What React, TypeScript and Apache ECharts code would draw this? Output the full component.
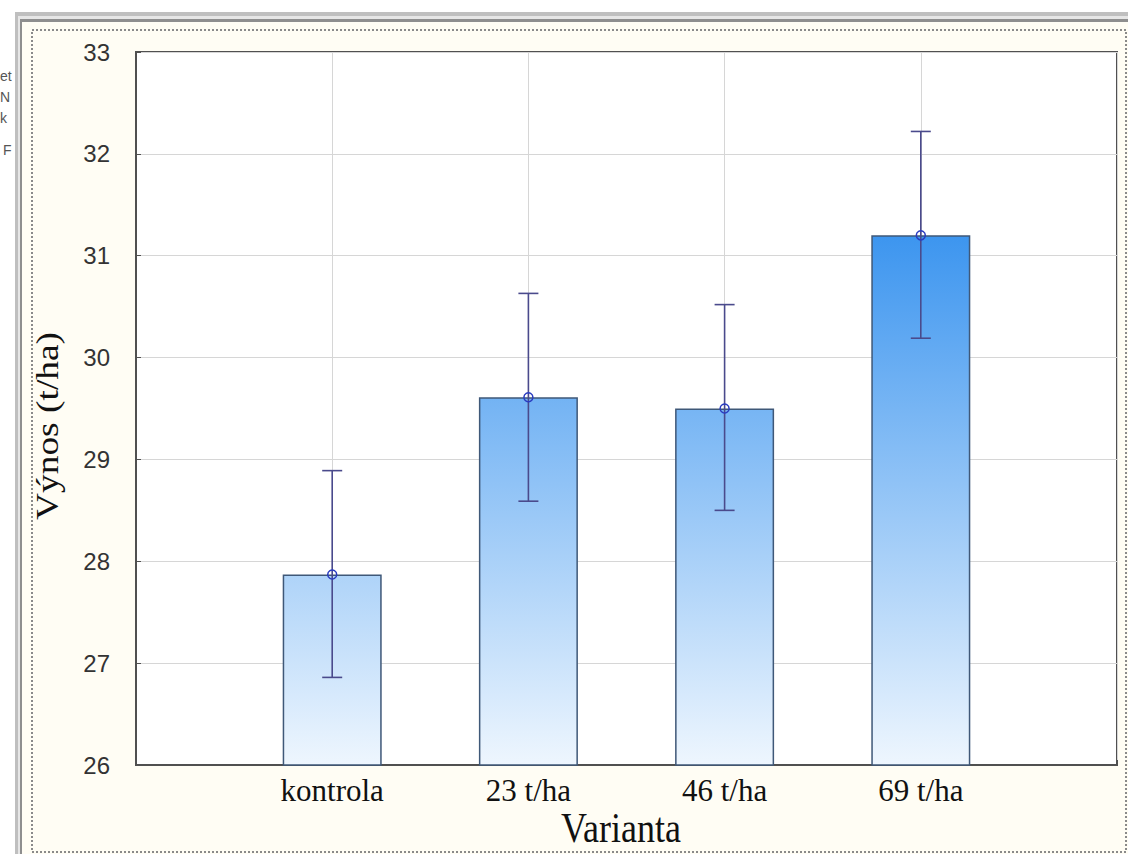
import React, { useEffect, useRef } from "react";
import * as echarts from "echarts";

const categories = ["", "kontrola", "23 t/ha", "46 t/ha", "69 t/ha", ""];
const means = [null, 27.87, 29.61, 29.5, 31.2, null];
const lowerErr = [null, 26.86, 28.59, 28.5, 30.19, null];
const upperErr = [null, 28.89, 30.63, 30.52, 32.22, null];
const yTicks = { min: 26, max: 33, interval: 1 };
const sideFragments = ["et", "N", "k", "F"];

export default function App() {
  const ref = useRef<HTMLDivElement>(null);
  useEffect(() => {
    if (!ref.current) return;
    const chart = echarts.init(ref.current, null, { renderer: "svg" });
    const errData: any[] = [];
    categories.forEach((_, i) => {
      if (means[i] != null) errData.push([i, lowerErr[i], upperErr[i], means[i]]);
    });
    const serif = "'Liberation Serif', 'DejaVu Serif', serif";
    const sans = "'Liberation Sans', Arial, sans-serif";
    const option: any = {
      animation: false,
      backgroundColor: "#ffffff",
      graphic: [
        { type: "rect", shape: { x: 15, y: 12, width: 1113, height: 842 }, style: { fill: "#bfbfbf" }, z: -10 },
        { type: "rect", shape: { x: 18, y: 16, width: 1110, height: 838 }, style: { fill: "#e6e6e6" }, z: -10 },
        { type: "rect", shape: { x: 20, y: 19, width: 1108, height: 835 }, style: { fill: "#8e8e8e" }, z: -10 },
        { type: "rect", shape: { x: 22, y: 22, width: 1106, height: 832 }, style: { fill: "#fffdf4" }, z: -10 },
        {
          type: "rect",
          shape: { x: 32, y: 30, width: 1094, height: 822 },
          style: { fill: "none", stroke: "#8a8a8a", lineWidth: 2, lineDash: [2, 2] },
          z: -9,
        },
        ...sideFragments.map((t, i) => ({
          type: "text",
          x: i === 3 ? 3 : 0,
          y: [76, 97, 118, 150][i],
          style: { text: t, font: `14px ${sans}`, fill: "#555", verticalAlign: "middle" },
        })),
        {
          type: "text",
          x: 47,
          y: 426,
          rotation: Math.PI / 2,
          scaleX: 1.17,
          style: {
            text: "Výnos (t/ha)",
            font: `32px ${serif}`,
            fill: "#111",
            align: "center",
            verticalAlign: "middle",
          },
        },
        {
          type: "text",
          x: 621,
          y: 828,
          scaleY: 1.2,
          style: {
            text: "Varianta",
            font: `36px ${serif}`,
            fill: "#111",
            align: "center",
            verticalAlign: "middle",
          },
        },
      ],
      grid: {
        left: 136,
        right: 11,
        top: 52,
        bottom: 89,
        show: true,
        backgroundColor: "#ffffff",
        borderColor: "#505050",
        borderWidth: 2,
      },
      xAxis: {
        type: "category",
        data: categories,
        boundaryGap: false,
        axisLine: { lineStyle: { color: "#505050", width: 2 } },
        axisTick: { inside: true, length: 5, lineStyle: { color: "#505050" } },
        axisLabel: { fontFamily: serif, fontSize: 31, color: "#111", margin: 10 },
        splitLine: { show: true, lineStyle: { color: "#d6d6d6", width: 1 } },
      },
      yAxis: {
        type: "value",
        min: yTicks.min,
        max: yTicks.max,
        interval: yTicks.interval,
        axisLine: { show: true, lineStyle: { color: "#505050", width: 2 } },
        axisTick: { show: true, inside: true, length: 5, lineStyle: { color: "#505050" } },
        axisLabel: { fontFamily: sans, fontSize: 24, color: "#333", margin: 26 },
        splitLine: { show: true, lineStyle: { color: "#d6d6d6", width: 1 } },
      },
      series: [
        {
          type: "bar",
          data: means,
          barWidth: 99,
          itemStyle: {
            color: new echarts.graphic.LinearGradient(
              0, 234, 0, 765,
              [
                { offset: 0, color: "#3c95ef" },
                { offset: 1, color: "#eef6fe" },
              ],
              true
            ),
            borderColor: "#3f5878",
            borderWidth: 1.5,
          },
          z: 2,
        },
        {
          type: "custom",
          data: errData,
          z: 5,
          renderItem: (params: any, api: any) => {
            const x = api.value(0);
            const lo = api.coord([x, api.value(1)]);
            const hi = api.coord([x, api.value(2)]);
            const mid = api.coord([x, api.value(3)]);
            const capW = 10;
            const stroke = { stroke: "#4a4a8c", lineWidth: 1.6 };
            return {
              type: "group",
              children: [
                { type: "line", shape: { x1: lo[0], y1: lo[1], x2: hi[0], y2: hi[1] }, style: stroke },
                { type: "line", shape: { x1: lo[0] - capW, y1: lo[1], x2: lo[0] + capW, y2: lo[1] }, style: stroke },
                { type: "line", shape: { x1: hi[0] - capW, y1: hi[1], x2: hi[0] + capW, y2: hi[1] }, style: stroke },
                {
                  type: "circle",
                  shape: { cx: mid[0], cy: mid[1], r: 4.5 },
                  style: { fill: "none", stroke: "#2a3cc0", lineWidth: 1.5 },
                },
              ],
            };
          },
        },
      ],
    };
    chart.setOption(option);
    return () => chart.dispose();
  }, []);
  return (
    <div
      ref={ref}
      style={{ position: "absolute", left: 0, top: 0, width: 1128, height: 854 }}
    />
  );
}
